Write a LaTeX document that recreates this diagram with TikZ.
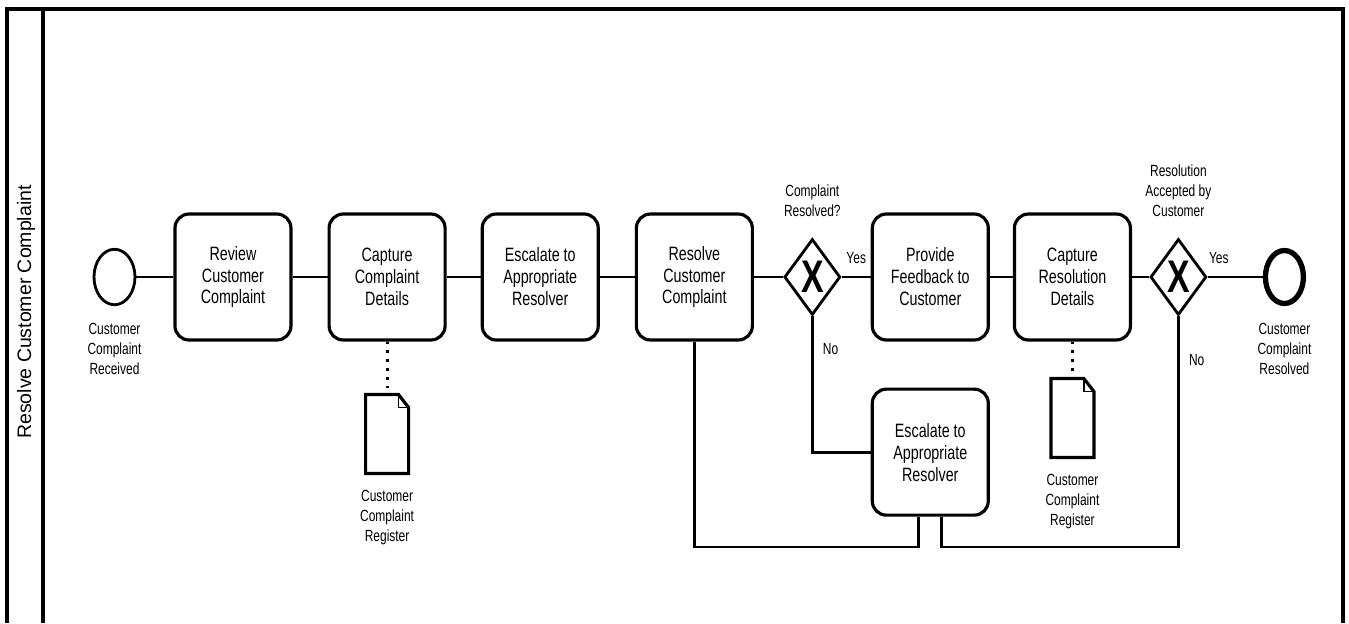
\documentclass[tikz,border=0pt]{standalone}
\usepackage{fontspec}
\setmainfont{Liberation Sans}[FakeStretch=0.74]
\newfontfamily\lanefont{Liberation Sans}
\usetikzlibrary{shapes.geometric,positioning}

\newcommand{\taskfont}{\fontsize{11}{12.5}\selectfont}
\newcommand{\lblfont}{\fontsize{9.2}{11.4}\selectfont}

\begin{document}
\begin{tikzpicture}[
    x=0.02cm, y=-0.02cm,
    task/.style={rectangle, draw, line width=1.8pt, rounded corners=8pt, minimum width=2.32cm, minimum height=2.52cm, inner sep=0pt, align=center, font=\taskfont},
    gateway/.style={diamond, draw, line width=1.6pt, minimum width=1.12cm, minimum height=1.52cm, inner sep=0pt, font=\fontsize{26}{26}\selectfont\bfseries},
    startevt/.style={ellipse, draw, line width=1.6pt, minimum width=0.82cm, minimum height=1.11cm, inner sep=0pt},
    endevt/.style={ellipse, draw, line width=3pt, minimum width=0.76cm, minimum height=1.06cm, inner sep=0pt},
    docnode/.style={rectangle, minimum width=0.86cm, minimum height=1.58cm, inner sep=0pt, outer sep=0pt},
    lbl/.style={align=center, font=\lblfont, inner sep=1pt},
    flow/.style={line width=1.6pt},
    assoc/.style={line width=1.8pt, dash pattern=on 1.6pt off 3.4pt},
    lane/.style={line width=2pt}
]
\useasboundingbox (0,0) rectangle (1349,623);

% Pool and lane
\draw[lane] (7,623) |- (1343,9) -- (1343,623);
\draw[lane] (43,9) -- (43,623);
\node[rotate=90, font=\lanefont\fontsize{11.1}{13}\selectfont] (lanetitle) at (26,312) {Resolve Customer Complaint};

% Main flow
\node[startevt] (start) at (114.5,277) {};
\node[lbl, below=0.29cm of start] (startlbl) {Customer\\Complaint\\Received};
\node[task, right=0.74cm of start] (review) {Review\\Customer\\Complaint};
\node[task, right=0.7cm of review] (capC) {Capture\\Complaint\\Details};
\node[task, right=0.68cm of capC] (esc1) {Escalate to\\Appropriate\\Resolver};
\node[task, right=0.7cm of esc1] (res) {Resolve\\Customer\\Complaint};
\node[gateway, right=0.58cm of res] (gw1) {X};
\node[lbl, above=0.38cm of gw1] (gw1lbl) {Complaint\\Resolved?};
\node[task, right=0.58cm of gw1] (fb) {Provide\\Feedback to\\Customer};
\node[task, right=0.46cm of fb] (capR) {Capture\\Resolution\\Details};
\node[gateway, right=0.34cm of capR] (gw2) {X};
\node[lbl, above=0.38cm of gw2] (gw2lbl) {Resolution\\Accepted by\\Customer};
\node[endevt, right=1.1cm of gw2] (end) {};
\node[lbl, below=0.29cm of end] (endlbl) {Customer\\Complaint\\Resolved};

% Escalation branch
\node[task, below=0.92cm of fb] (esc2) {Escalate to\\Appropriate\\Resolver};

% Data objects
\node[docnode, below=1.06cm of capC] (reg1) {};
\node[lbl, below=0.29cm of reg1] (reg1lbl) {Customer\\Complaint\\Register};
\node[docnode, below=0.74cm of capR] (reg2) {};
\node[lbl, below=0.29cm of reg2] (reg2lbl) {Customer\\Complaint\\Register};
\foreach \d in {reg1,reg2} {
  \draw[line width=1.8pt] (\d.south west) -- (\d.north west) -- ([xshift=-0.2cm]\d.north east)
    -- ([yshift=-0.26cm]\d.north east) -- (\d.south east) -- cycle;
  \draw[line width=0.9pt] ([xshift=-0.2cm]\d.north east) |- ([yshift=-0.26cm]\d.north east);
}

% Sequence flows
\draw[flow] (start) -- (review);
\foreach \a/\b in {review/capC, capC/esc1, esc1/res, res/gw1, fb/capR, capR/gw2}
  \draw[flow] (\a) -- (\b);
\draw[flow] (gw1) -- node[lbl, above=0.2cm] {Yes} (fb);
\draw[flow] (gw2) -- node[lbl, above=0.2cm, pos=0.2] {Yes} (end);
\draw[flow] (gw1.south) |- node[lbl, pos=0.12, right=0.15cm] {No} (esc2.west);

\coordinate (bus) at (0,547);
\coordinate (esc2l) at ([xshift=-0.23cm]esc2.south);
\coordinate (esc2r) at ([xshift=0.23cm]esc2.south);
\draw[flow] (res.south) |- (esc2l |- bus) -- (esc2l);
\draw[flow] (gw2.south) -- node[lbl, pos=0.19, right=0.15cm] {No} (gw2.south |- bus) -| (esc2r);

% Associations
\draw[assoc] (capC) -- (reg1);
\draw[assoc] (capR) -- (reg2);

\end{tikzpicture}
\end{document}
